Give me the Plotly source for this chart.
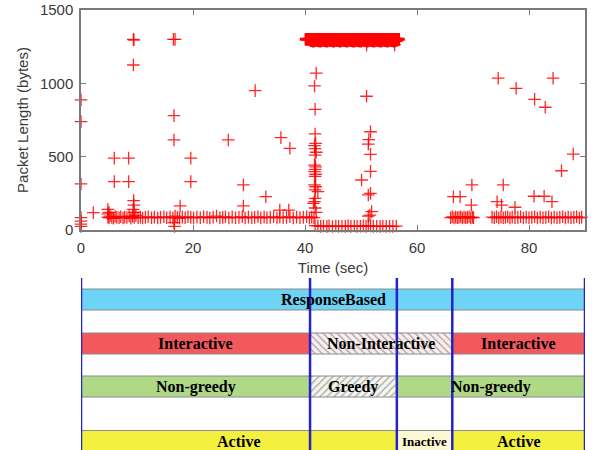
import plotly.graph_objects as go

# ---------------- data: packet trace ----------------
# isolated packets (time s, length bytes)
spike_t = [0, 0, 0, 0, 0, 0, 0, 2.2, 4.8, 4.8, 5.0, 5.95, 5.95, 8.5, 8.5,
           9.35, 9.45, 9.35, 9.4, 9.45, 9.3, 9.5,
           16.5, 16.8, 16.6, 16.6, 16.7, 16.6, 17.7, 19.6, 19.6, 26.3,
           29.0, 29.0, 31.1, 33.0, 35.7, 35.5, 37.3, 37.1]
spike_y = [887, 739, 314, 60, 40, 25, 85, 118, 140, 110, 120, 490, 330, 490, 330,
           1300, 1295, 1125, 200, 170, 140, 120,
           1300, 1300, 780, 614, 25, 50, 164, 490, 330, 614,
           307, 164, 950, 227, 630, 136, 557, 136]

col1_t = [42.0, 41.7, 41.8, 41.8, 41.9, 41.7, 41.8, 42.0, 41.8, 41.7, 41.9, 41.8,
          41.7, 41.9, 41.8, 41.7, 41.9, 42.3, 41.8, 41.7, 41.8, 42.0, 41.5, 41.8]
col1_y = [1069, 982, 823, 655, 591, 575, 555, 530, 511, 443, 430, 414,
          398, 380, 365, 307, 295, 261, 216, 193, 150, 120, 182, 273]

col2_t = [51.0, 51.7, 51.4, 51.3, 51.7, 51.7, 50.1, 51.7, 51.9, 51.3, 51.3, 51.6, 51.0, 56.0]
col2_y = [912, 670, 616, 585, 516, 400, 341, 250, 125, 95, 239, 102, 1262, 1262]

right_t = [66.5, 67.7, 69.8, 69.7, 74.5, 75.4, 74.3, 75.1, 77.7, 77.5,
           81.0, 80.9, 82.9, 82.7, 84.3, 84.1, 85.8, 87.9]
right_y = [227, 227, 307, 170, 1035, 307, 193, 170, 966, 155,
           891, 230, 837, 230, 1035, 193, 404, 518]

# steady small packets
base_t = [4.8, 5.0, 5.2, 5.5, 5.8, 6.1, 6.4, 6.8, 7.1, 7.5, 7.8, 8.2, 8.6, 8.9,
          9.2, 9.5, 9.8, 10.2, 10.6, 11.0, 11.5, 12.0, 12.6, 13.1, 13.7, 14.2,
          14.8, 15.3, 15.9, 16.4, 16.8, 17.2, 17.6, 18.1, 18.6, 19.1, 19.6, 20.1,
          20.7, 21.3, 21.9, 22.5, 23.0, 23.6, 24.2, 24.8, 25.3, 25.8, 26.4, 27.0,
          27.6, 28.2, 28.8, 29.3, 29.9, 30.5, 31.0, 31.6, 32.1, 32.7, 33.2, 33.8,
          34.4, 35.0, 35.5, 36.1, 36.7, 37.3, 37.9, 38.5, 39.1, 39.7, 40.3, 40.8,
          41.2, 41.6,
          66.0, 66.3, 66.6, 66.9, 67.2, 67.5, 67.8, 68.1, 68.4, 68.7, 69.0, 69.3,
          69.6, 69.9, 70.1,
          73.4, 73.8, 74.2, 74.6, 75.0, 75.4, 75.8, 76.2, 76.6, 77.0, 77.5, 78.0,
          78.5, 79.0, 79.5, 80.0, 80.5, 81.0, 81.5, 82.0, 82.5, 83.0, 83.5, 84.0,
          84.5, 85.0, 85.5, 86.0, 86.5, 87.0, 87.5, 88.0, 88.5, 89.0, 89.4]
base_y = [88, 82, 95, 85, 80, 92, 86, 84, 90, 82, 88, 85, 95, 80,
          92, 86, 100, 84, 88, 82, 86, 90, 84, 88, 82, 86,
          90, 84, 88, 82, 95, 86, 80, 88, 84, 90, 86, 82,
          88, 84, 90, 86, 82, 88, 95, 84, 86, 90, 82, 88,
          84, 86, 90, 82, 88, 84, 86, 90, 82, 88, 84, 86,
          90, 82, 88, 84, 86, 90, 82, 88, 84, 86, 90, 82,
          88, 84,
          84, 90, 82, 88, 84, 86, 90, 82, 88, 84, 86, 90,
          82, 88, 84,
          88, 84, 90, 82, 88, 84, 86, 90, 82, 88, 84, 86,
          90, 82, 88, 84, 86, 90, 82, 88, 84, 86, 90, 82,
          88, 84, 86, 90, 82, 88, 84, 86, 90, 82, 88]

# small ACK-like packets during the burst
low_t = [41.8, 42.3, 42.8, 43.3, 43.9, 44.3, 44.9, 45.5, 46.0, 46.6, 47.2, 47.7,
         48.2, 48.8, 49.3, 49.9, 50.4, 50.9, 51.3, 51.7, 52.2, 52.8, 53.4, 53.9,
         54.5, 55.1, 55.7, 56.3]
low_y = [30, 28, 25, 27, 25, 28, 25, 27, 25, 26, 25, 28,
         25, 27, 25, 26, 28, 25, 30, 27, 25, 26, 25, 27,
         25, 26, 25, 27]

# full-size packets of the download burst
burst_t = [40.2, 40.6, 41.0, 41.2, 41.4, 41.6, 41.8, 42.0, 42.2, 42.4, 42.6, 42.8,
           43.0, 43.2, 43.4, 43.6, 43.8, 44.0, 44.2, 44.4, 44.6, 44.8, 45.0,
           45.2, 45.4, 45.6, 45.8, 46.0, 46.2, 46.4, 46.6, 46.8, 47.0, 47.2,
           47.4, 47.6, 47.8, 48.0, 48.2, 48.4, 48.6, 48.8, 49.0, 49.2, 49.4,
           49.6, 49.8, 50.0, 50.2, 50.4, 50.6, 50.8, 51.0, 51.2, 51.4, 51.6,
           51.8, 52.0, 52.2, 52.4, 52.6, 52.8, 53.0, 53.2, 53.4, 53.6, 53.8,
           54.0, 54.2, 54.4, 54.6, 54.8, 55.0, 55.2, 55.4, 55.6, 55.8, 56.0,
           56.2, 56.4, 56.7]
burst_y = [1300] * len(burst_t)
burst2_t = [41.1, 41.5, 41.9, 42.3, 42.7, 43.1, 43.5, 43.9, 44.3, 44.7, 45.1, 45.5,
            45.9, 46.3, 46.7, 47.1, 47.5, 47.9, 48.3, 48.7, 49.1, 49.5, 49.9, 50.3,
            50.7, 51.1, 51.5, 51.9, 52.3, 52.7, 53.1, 53.5, 53.9, 54.3, 54.7, 55.1,
            55.5, 55.9, 56.3]
burst2_y = [1290, 1288, 1292, 1290, 1288, 1292, 1290, 1288, 1292, 1290, 1288, 1292,
            1290, 1288, 1292, 1290, 1288, 1292, 1290, 1288, 1292, 1290, 1288, 1292,
            1290, 1288, 1292, 1290, 1288, 1292, 1290, 1288, 1292, 1290, 1288, 1292,
            1290, 1288, 1292]

x_ticks = [0, 20, 40, 60, 80]
y_ticks = [0, 500, 1000, 1500]

# ---------------- data: behaviour timeline ----------------
transitions = [0, 40.9, 56.4, 66.3, 90]
seg_row   = ["rb", "int", "int", "int", "ng", "ng", "ng", "act", "act", "act"]
seg_label = ["ResponseBased", "Interactive", "Non-Interactive", "Interactive",
             "Non-greedy", "Greedy", "Non-greedy", "Active", "Inactive", "Active"]
seg_start = [0, 0, 40.9, 66.3, 0, 40.9, 56.4, 0, 56.4, 66.3]
seg_end   = [90, 40.9, 66.3, 90, 40.9, 56.4, 90, 56.4, 66.3, 90]

# ---------------- styling ----------------
W, H = 593, 450
X0, X1 = 81, 585           # pixel span of the time axis
row_center = {"rb": 299.5, "int": 343.5, "ng": 386.5, "act": 441}
BAR_H = 21
seg_fill = ["#5fd0f5", "#f2484b", "#fbecec", "#f2484b",
            "#a8d57b", "#f3f6ec", "#a8d57b", "#f3ef2c", "#fbf8d2", "#f3ef2c"]
seg_hatch = ["", "", "\\", "", "", "/", "", "", "", ""]
seg_hatch_fg = ["black", "black", "#e58a8a", "black", "black", "#b9c8a6",
                "black", "black", "black", "black"]
seg_font = [16, 16, 16, 16, 16, 16, 16, 16, 13, 16]

fig = go.Figure()

# transition lines (drawn first)
for t in transitions:
    fig.add_trace(go.Scatter(x=[t, t], y=[278, 450], mode="lines",
                             line=dict(color="#2323c8", width=2.5),
                             xaxis="x2", yaxis="y2", showlegend=False, hoverinfo="skip",
                             cliponaxis=False))

mk = dict(symbol="cross-thin", size=9, line=dict(width=1.3, color="rgba(255,0,0,0.85)"))
mk_burst = dict(symbol="cross-thin", size=9, line=dict(width=3, color="rgb(255,0,0)"))
for tx, ty, m in [(base_t, base_y, mk), (low_t, low_y, mk), (burst_t, burst_y, mk_burst),
                  (burst2_t, burst2_y, mk_burst), (spike_t, spike_y, mk),
                  (col1_t, col1_y, mk), (col2_t, col2_y, mk), (right_t, right_y, mk)]:
    fig.add_trace(go.Scatter(x=tx, y=ty, mode="markers", marker=m,
                             xaxis="x", yaxis="y", showlegend=False,
                             cliponaxis=False, hoverinfo="skip"))

# timeline bars
fig.add_trace(go.Bar(
    orientation="h",
    y=[row_center[r] for r in seg_row],
    x=[e - s for s, e in zip(seg_start, seg_end)],
    base=seg_start,
    width=BAR_H,
    textposition="none",
    marker=dict(color=seg_fill,
                line=dict(color="#7f7f7f", width=1),
                pattern=dict(shape=seg_hatch, fgcolor=seg_hatch_fg,
                             size=5, solidity=0.25),
                opacity=0.9),
    xaxis="x2", yaxis="y2", showlegend=False, hoverinfo="skip",
))

# segment labels, centred through the axis scales
for r, lab, s, e, fs in zip(seg_row, seg_label, seg_start, seg_end, seg_font):
    fig.add_annotation(x=(s + e) / 2, y=row_center[r], xref="x2", yref="y2",
                       text=lab, showarrow=False,
                       font=dict(family="Liberation Serif", size=fs, color="black",
                                 weight="bold"))

axis_font = dict(family="Liberation Sans", size=15, color="#3a3a3a")
fig.update_layout(
    width=W, height=H,
    margin=dict(l=0, r=0, t=0, b=0),
    paper_bgcolor="white", plot_bgcolor="white",
    barmode="overlay",
    xaxis=dict(domain=[X0 / W, X1 / W], range=[0, 90], anchor="y", automargin=False,
               tickvals=x_ticks, ticks="inside", ticklen=5, tickcolor="#777",
               mirror="ticks", showline=True, linecolor="#7a7a7a", linewidth=1.5,
               showgrid=False, zeroline=False, tickfont=axis_font, ticklabelstandoff=3,
               title=dict(text="Time (sec)", font=axis_font, standoff=8)),
    yaxis=dict(domain=[1 - 230 / H, 1 - 10 / H], range=[0, 1500], anchor="x",
               automargin=False,
               tickvals=y_ticks, ticks="inside", ticklen=5, tickcolor="#777",
               mirror="ticks", showline=True, linecolor="#7a7a7a", linewidth=1.5,
               showgrid=False, zeroline=False, tickfont=axis_font, ticklabelstandoff=3,
               title=dict(text="Packet Length (bytes)", font=axis_font, standoff=8)),
    xaxis2=dict(domain=[X0 / W, X1 / W], range=[0, 90], anchor="y2", visible=False),
    yaxis2=dict(domain=[0, 175 / H], range=[450, 275], anchor="x2", visible=False),
)

fig.write_html("out.html", config={"displayModeBar": False},
               post_script="document.body.style.margin='0';document.body.style.overflow='hidden';")
